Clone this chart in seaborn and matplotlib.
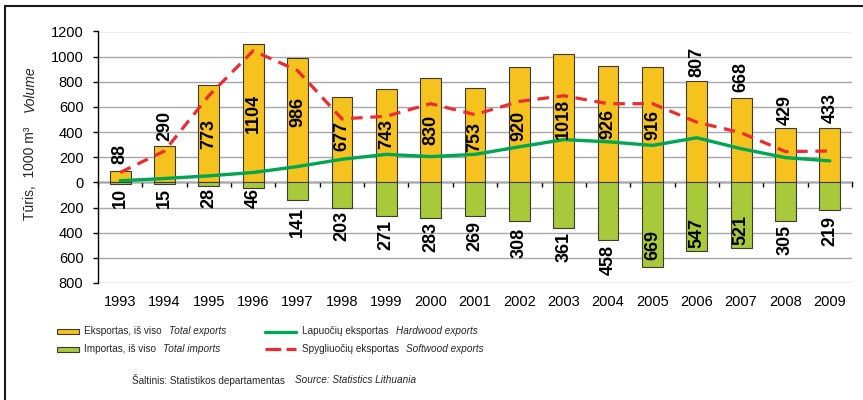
import numpy as np
import pandas as pd
import matplotlib
matplotlib.use("Agg")
import matplotlib.pyplot as plt
import matplotlib.ticker as ticker
from matplotlib.lines import Line2D
from matplotlib.patches import Rectangle
import seaborn as sns

# data (1000 m3)
years = [str(y) for y in range(1993, 2010)]
exports = [88, 290, 773, 1104, 986, 677, 743, 830, 753, 920, 1018, 926, 916, 807, 668, 429, 433]
imports = [10, 15, 28, 46, 141, 203, 271, 283, 269, 308, 361, 458, 669, 547, 521, 305, 219]
hardwood = [13, 31, 52, 79, 126, 184, 223, 205, 223, 283, 340, 323, 294, 355, 268, 197, 171]
softwood = [79, 250, 690, 1047, 889, 505, 526, 626, 539, 644, 689, 626, 626, 479, 395, 245, 250]

# where the value labels sit (centre, data units) - hand placed in the original
exp_lab_y = [229, 447, 381, 552, 559, 368, 381, 421, 361, 447, 506, 466, 454, 960, 841, 578, 591]
imp_lab_y = [-125, -125, -127, -125, -317, -344, -415, -433, -424, -483, -514, -619, -494, -401, -376, -455, -389]

c_exp = '#F6C21E'
c_imp = '#A8C93A'
c_hard = '#00A651'
c_soft = '#EE2B30'
c_edge = '#3a3a3a'

sns.set_theme(style="white")
plt.rcParams['font.family'] = ['Liberation Sans', 'DejaVu Sans']
leg_size = 7.2

df = pd.DataFrame({'year': years,
                   'pos': np.arange(len(years)),
                   'exports': exports,
                   'imports': [-v for v in imports],
                   'hardwood': hardwood,
                   'softwood': softwood})

fig = plt.figure(figsize=(8.63, 4), dpi=100)
ax = fig.add_axes([98 / 863, 1 - 283 / 400, 754 / 863, 251.5 / 400])

# bars
sns.barplot(data=df, x='year', y='exports', color=c_exp, saturation=1, width=0.47,
            edgecolor=c_edge, linewidth=0.8, ax=ax)
sns.barplot(data=df, x='year', y='imports', color=c_imp, saturation=1, width=0.47,
            edgecolor=c_edge, linewidth=0.8, ax=ax)

# lines
sns.lineplot(data=df, x='pos', y='hardwood', color=c_hard, lw=2.4, ax=ax, zorder=4)
sns.lineplot(data=df, x='pos', y='softwood', color=c_soft, lw=2.3,
             linestyle=(0, (3.6, 2.4)), ax=ax, zorder=4)

ymin, ymax = -800, 1200
ax.set_ylim(ymin, ymax)
ax.set_xlim(-0.5, len(years) - 0.5)
ax.set_xlabel('')
ax.set_ylabel('')
ax.set_yticks(np.arange(ymin, ymax + 1, 200))
ax.yaxis.set_major_formatter(ticker.FuncFormatter(lambda v, p: f'{abs(int(round(v)))}'))
ax.set_axisbelow(True)
ax.yaxis.grid(True, color='#a8a8a8', lw=1)
ax.xaxis.grid(False)

for s in ['top', 'right', 'bottom']:
    ax.spines[s].set_visible(False)
ax.spines['left'].set_color('black')
ax.spines['left'].set_linewidth(1)
ax.tick_params(axis='y', left=True, length=3.5, width=1, color='black', pad=7,
               labelsize=10.5, labelcolor='black')
ax.tick_params(axis='x', bottom=False, length=0, pad=9, labelsize=10.5, labelcolor='black')

# zero line with ticks between the years
sec = ax.secondary_xaxis((0 - ymin) / (ymax - ymin))
sec.set_xticks(np.arange(-0.5, len(years), 1))
sec.tick_params(axis='x', direction='out', length=3.5, width=1, color='black', labelbottom=False)
sec.spines['bottom'].set_color('black')
sec.spines['bottom'].set_linewidth(1)

# value labels
for i, (v, yl) in enumerate(zip(exports, exp_lab_y)):
    ax.text(i, yl, str(v), rotation=90, ha='center', va='center',
            fontsize=13, fontweight='bold', color='black', zorder=5)
for i, (v, yl) in enumerate(zip(imports, imp_lab_y)):
    ax.text(i, yl, str(v), rotation=90, ha='center', va='center',
            fontsize=13, fontweight='bold', color='black', zorder=5)

# y axis title
fig.text(30 / 863, 1 - 220 / 400, 'Tūris,  1000 m³', rotation=90, ha='center',
         va='bottom', fontsize=10)
fig.text(30 / 863, 1 - 112 / 400, 'Volume', rotation=90, ha='center',
         va='bottom', fontsize=10, style='italic')


# legend, drawn by hand
def fx(px):
    return px / 863


def fy(px):
    return 1 - px / 400


r1, r2 = 331.5, 349
fig.add_artist(Rectangle((fx(57), fy(r1 + 2.5)), fx(22), 5 / 400, transform=fig.transFigure,
                         facecolor=c_exp, edgecolor=c_edge, lw=0.8))
fig.add_artist(Rectangle((fx(57), fy(r2 + 2.5)), fx(22), 5 / 400, transform=fig.transFigure,
                         facecolor=c_imp, edgecolor=c_edge, lw=0.8))
fig.add_artist(Line2D([fx(265), fx(296)], [fy(r1), fy(r1)], transform=fig.transFigure,
                      color=c_hard, lw=2.4))
fig.add_artist(Line2D([fx(265), fx(296)], [fy(r2), fy(r2)], transform=fig.transFigure,
                      color=c_soft, lw=2.3, linestyle=(0, (4.9, 1.7))))

renderer = fig.canvas.get_renderer()


def two_part(x, y, lt, en, gap=7):
    # Lithuanian text, then English text in italics right after it
    t = fig.text(fx(x), fy(y), lt, ha='left', va='center', fontsize=leg_size)
    bb = t.get_window_extent(renderer=renderer)
    fig.text((bb.x1 + gap) / fig.bbox.width, fy(y), en, ha='left', va='center',
             fontsize=leg_size, style='italic')


two_part(84, r1, 'Eksportas, iš viso', 'Total exports')
two_part(84, r2, 'Importas, iš viso', 'Total imports')
two_part(302, r1, 'Lapuočių eksportas', 'Hardwood exports')
two_part(302, r2, 'Spygliuočių eksportas', 'Softwood exports')
two_part(132, 380, 'Šaltinis: Statistikos departamentas', 'Source: Statistics Lithuania', gap=10)

# frame (left and top edges visible in the original)
fig.add_artist(Line2D([fx(5), fx(5)], [0, fy(6)], transform=fig.transFigure, color='#1a1a1a', lw=1.5))
fig.add_artist(Line2D([fx(5), 1], [fy(6), fy(6)], transform=fig.transFigure, color='#1a1a1a', lw=1.5))

fig.savefig('out.png', dpi=100, facecolor='white')
